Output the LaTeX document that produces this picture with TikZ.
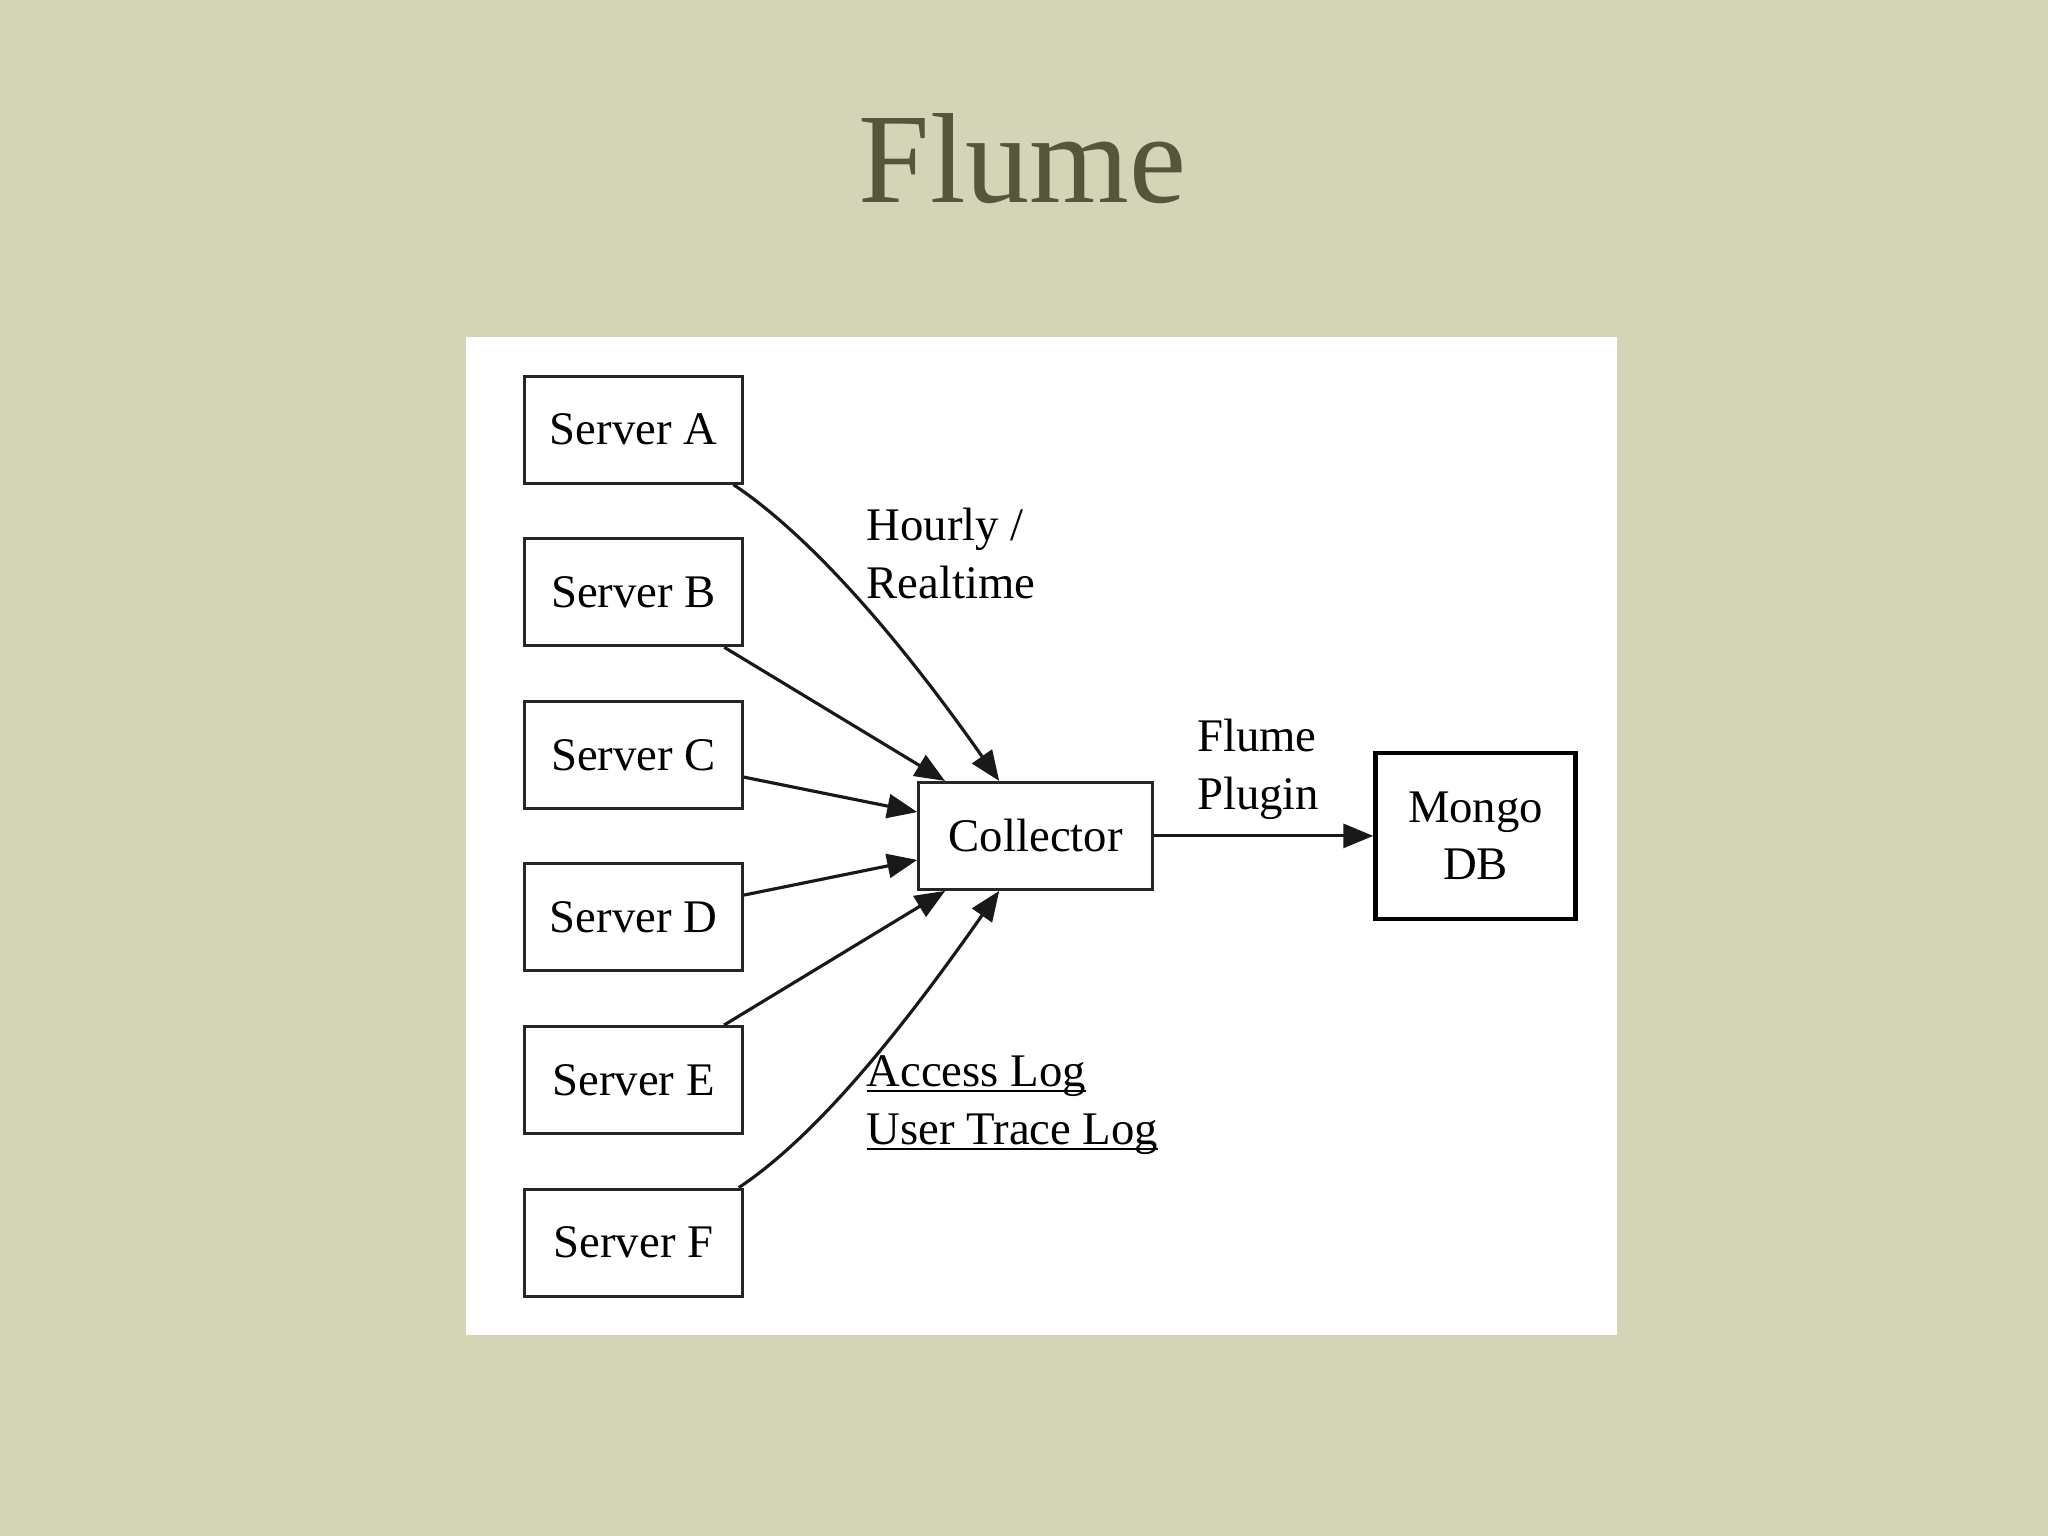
\documentclass[tikz,border=0pt]{standalone}
\usepackage{fontspec}
\setmainfont{Liberation Serif}
\usepackage{xcolor}
\usepackage{tikz}
\usetikzlibrary{arrows.meta, positioning}

\definecolor{paper}{HTML}{D4D4B7}
\definecolor{titleolive}{HTML}{57553A}

% underlined label text
\newcommand\ultext[1]{\setbox0\hbox{#1}\rlap{\rule[-1.6pt]{\wd0}{0.6pt}}\box0}

\begin{document}
\begin{tikzpicture}[
        x=0.013061cm, y=-0.013061cm,
        node distance=0.526cm,
        server/.style={
            rectangle,
            draw=black!85,
            fill=white,
            line width=0.85pt,
            minimum width=2.18cm,
            minimum height=1.07cm,
            inner sep=0pt,
            font=\fontsize{13.3pt}{16.4pt}\selectfont
        },
        collector/.style={
            server,
            minimum width=2.34cm
        },
        store/.style={
            server,
            draw=black,
            line width=1.3pt,
            minimum width=2cm,
            minimum height=1.66cm,
            align=center
        },
        note/.style={
            anchor=west,
            align=left,
            inner sep=0pt,
            font=\fontsize{13.3pt}{16.4pt}\selectfont
        },
        edge/.style={-{Triangle[length=3mm, width=2.4mm]}, line width=0.9pt, draw=black!90}
    ]

    % slide background and white panel
    \fill [paper] (0,0) rectangle (1568,1176);
    \useasboundingbox (0,0) rectangle (1568,1176);
    \fill [white] (357,258) rectangle (1238,1022);

    \node (title) [anchor=base, text=titleolive, font=\fontsize{36.5pt}{40pt}\selectfont] at (783,155) {Flume};

    \node (srvA) [server] at (485,329) {Server A};
    \node (srvB) [server, below=of srvA] {Server B};
    \node (srvC) [server, below=of srvB] {Server C};
    \node (srvD) [server, below=of srvC] {Server D};
    \node (srvE) [server, below=of srvD] {Server E};
    \node (srvF) [server, below=of srvE] {Server F};

    \node (coll)  [collector] at (793,640) {Collector};
    \node (mongo) [store, right=2.19cm of coll] {Mongo\\DB};

    \node (hourly) [note] at (663,424) {Hourly /\\Realtime};
    \node (plugin) [note] at (916,589) {Flume\\Plugin};
    \node (logs)   [note] at (663,846) {\ultext{Access Log}\\\ultext{User Trace Log}};

    \draw [edge] ([shift={(-8,0)}]srvA.south east) .. controls +(60,40) and +(-75,-107) .. ([shift={(-28,0)}]coll.north);
    \draw [edge] (srvB) -- (coll);
    \draw [edge] (srvC) -- (coll);
    \draw [edge] (srvD) -- (coll);
    \draw [edge] (srvE) -- (coll);
    \draw [edge] ([shift={(-4,0)}]srvF.north east) .. controls +(60,-40) and +(-75,107) .. ([shift={(-28,0)}]coll.south);
    \draw [edge] (coll) -- (mongo);

\end{tikzpicture}
\end{document}
